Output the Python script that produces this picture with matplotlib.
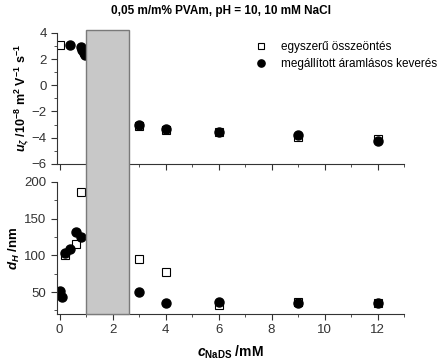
import matplotlib.pyplot as plt
from matplotlib.patches import Rectangle
from matplotlib.ticker import MultipleLocator
from matplotlib.transforms import blended_transform_factory

plt.rcParams['font.family'] = ['Liberation Sans', 'DejaVu Sans']
plt.rcParams['mathtext.fontset'] = 'custom'
plt.rcParams['mathtext.rm'] = 'Liberation Sans:bold'
plt.rcParams['mathtext.it'] = 'Liberation Sans:bold:italic'
plt.rcParams['mathtext.bf'] = 'Liberation Sans:bold'

# mobility (top panel)
u_sq_x = [0, 3, 4, 6, 9, 12]
u_sq_y = [3.05, -3.1, -3.45, -3.6, -3.95, -4.1]
u_ci_x = [0.4, 0.8, 0.85, 0.9, 0.95, 3, 4, 6, 9, 12]
u_ci_y = [3.1, 2.9, 2.7, 2.5, 2.3, -3.05, -3.35, -3.55, -3.8, -4.25]

# hydrodynamic diameter (bottom panel)
d_sq_x = [0.2, 0.6, 0.8, 3, 4, 6, 9, 12]
d_sq_y = [101, 116, 186, 95, 77, 33, 36, 35]
d_ci_x = [0, 0.1, 0.2, 0.4, 0.6, 0.8, 3, 4, 6, 9, 12]
d_ci_y = [52, 43, 103, 109, 132, 125, 50, 35, 36, 35, 35]

gap = (1.0, 2.6)

fig = plt.figure(figsize=(4.42, 3.61), dpi=100)
ax1 = fig.add_axes([0.129, 0.546, 0.785, 0.363])
ax2 = fig.add_axes([0.129, 0.130, 0.785, 0.366])

sq = dict(marker='s', ls='none', mfc='white', mec='black', ms=5.5, mew=0.8)
ci = dict(marker='o', ls='none', color='black', ms=6.5)

ax1.plot(u_sq_x, u_sq_y, label='egyszerű összeöntés', **sq)
ax1.plot(u_ci_x, u_ci_y, label='megállított áramlásos keverés', **ci)
ax2.plot(d_sq_x, d_sq_y, **sq)
ax2.plot(d_ci_x, d_ci_y, **ci)

for ax in (ax1, ax2):
    ax.set_xlim(-0.1, 13)
    ax.spines['top'].set_visible(False)
    ax.spines['right'].set_visible(False)
    for s in ('left', 'bottom'):
        ax.spines[s].set_color('#333333')
    ax.xaxis.set_major_locator(MultipleLocator(2))
    ax.xaxis.set_minor_locator(MultipleLocator(1))
    ax.tick_params(which='both', direction='out', labelsize=9.5,
                   colors='#333333', labelcolor='#333333')
    ax.tick_params(which='major', length=4)
    ax.tick_params(which='minor', length=2.5)

ax1.set_ylim(-6, 4)
ax1.yaxis.set_major_locator(MultipleLocator(2))
ax1.yaxis.set_minor_locator(MultipleLocator(1))
ax1.tick_params(axis='x', labelbottom=False)

ax2.set_ylim(20, 200)
ax2.yaxis.set_major_locator(MultipleLocator(50))
ax2.yaxis.set_minor_locator(MultipleLocator(25))
ax2.set_yticks([50, 100, 150, 200])

ax1.set_ylabel(r'$u_{\zeta}$ /10$^{-8}$ m$^2$ V$^{-1}$ s$^{-1}$',
               fontsize=9, fontweight='bold', labelpad=1)
ax2.set_ylabel(r'$d_H$ /nm', fontsize=9.5, fontweight='bold', labelpad=2)
ax2.set_xlabel(r'$c_{\rm NaDS}$ /mM', fontsize=10, fontweight='bold', labelpad=5)

ax1.legend(loc='upper right', bbox_to_anchor=(1.12, 1.0), frameon=False,
           fontsize=8.5, handletextpad=0.7, labelspacing=0.45, borderaxespad=0.3,
           markerscale=0.8)

# excluded (precipitation) region spanning both panels
tr = blended_transform_factory(ax2.transData, fig.transFigure)
fig.patches.append(Rectangle((gap[0], 0.130), gap[1] - gap[0], 0.917 - 0.130,
                             transform=tr, facecolor='#c8c8c8',
                             edgecolor='#7a7a7a', lw=1.0, zorder=5))

fig.suptitle('0,05 m/m% PVAm, pH = 10, 10 mM NaCl', x=0.5, y=0.985,
             fontsize=8.5, fontweight='bold')

fig.savefig('out.png', dpi=100)
